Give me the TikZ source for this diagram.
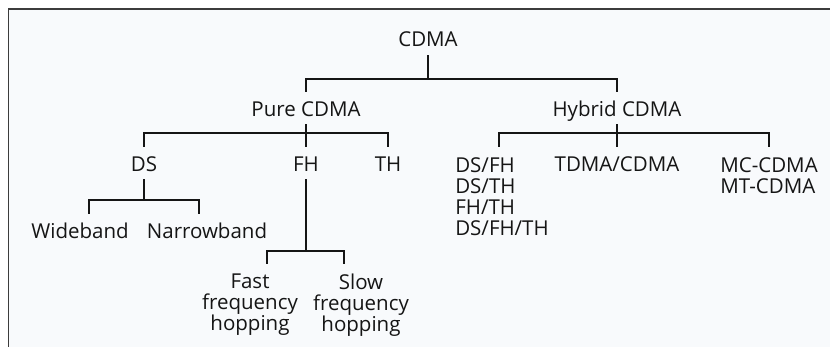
\documentclass[tikz,border=0pt]{standalone}
\usepackage{fontspec}
\setmainfont{Open Sans}
\usepackage{tikz}

\definecolor{paper}{HTML}{F8FAFC}
\definecolor{frame}{HTML}{3C3C3C}
\definecolor{ink}{HTML}{151515}

\tikzset{
	lbl/.style={font=\fontsize{20.5}{21}\selectfont, text=ink, inner sep=0pt,
		text height=15pt, text depth=4pt, anchor=base},
	multi/.style={font=\fontsize{20.5}{21}\selectfont, text=ink, inner sep=0pt, anchor=north},
	link/.style={draw=ink, line width=1.2pt},
	down/.style={shorten <=3pt, shorten >=10pt},
	brace/.style={shorten <=10pt, shorten >=10pt}
}

\begin{document}
\begin{tikzpicture}[x=1pt,y=-1pt]
	 \useasboundingbox (0,0) rectangle (830,347);
	 \fill[white] (0,0) rectangle (830,347);
	 \fill[paper] (8.5,9) rectangle (830,347);
	 \draw[frame, line width=1.6pt] (8.5,347) -- (8.5,9) -- (830,9);
	 % bus levels
	 \coordinate (b0) at (0,79);
	 \coordinate (b1) at (0,133);
	 \coordinate (b2) at (0,200);
	 \coordinate (b3) at (0,251);
	 \node[lbl] (cdma) at (428,47) {CDMA};
	 \node[lbl] (pure) at (306,117) {Pure CDMA};
	 \node[lbl] (hyb) at (617,117) {Hybrid CDMA};
	 \node[lbl] (ds) at (144,172) {DS};
	 \node[lbl] (fh) at (306,172) {FH};
	 \node[lbl] (th) at (388,172) {TH};
	 \node[multi, align=left] (mix) at (502,157) {DS/FH\\DS/TH\\FH/TH\\DS/FH/TH};
	 \node[lbl] (tdma) at (617,172) {TDMA/CDMA};
	 \node[multi, align=left] (mc) at (769,157.5) {MC-CDMA\\MT-CDMA};
	 \node[lbl] (wide) at (80,239) {Wideband};
	 \node[lbl] (narrow) at (207,239) {Narrowband};
	 \node[multi, align=center] (fast) at (250,274) {Fast\\frequency\\hopping};
	 \node[multi, align=center] (slow) at (361,274) {Slow\\frequency\\hopping};
	 % tree
	 \draw[link, shorten <=4pt] (cdma.south) -- (cdma.south |- b0);
	 \draw[link, brace] (pure.north) -- (pure.north |- b0) -| (hyb.north);
	 \draw[link, down] (pure.south) -- (fh.north);
	 \draw[link, brace] (ds.north) -- (ds.north |- b1) -| (th.north);
	 \draw[link, down] (hyb.south) -- (tdma.north);
	 \draw[link, brace] ([xshift=-3pt]mix.north) -- ([xshift=-3pt]mix.north |- b1) -| (mc.north);
	 \draw[link, shorten <=3pt] (ds.south) -- (ds.south |- b2);
	 \draw[link, brace] ([xshift=9pt]wide.north) -- ([xshift=9pt]wide.north |- b2) -| ([xshift=-8pt]narrow.north);
	 \draw[link, shorten <=3pt] (fh.south) -- (fh.south |- b3);
	 \draw[link, brace] ([xshift=17pt]fast.north) -- ([xshift=17pt]fast.north |- b3) -| ([xshift=-17pt]slow.north);
\end{tikzpicture}
\end{document}
